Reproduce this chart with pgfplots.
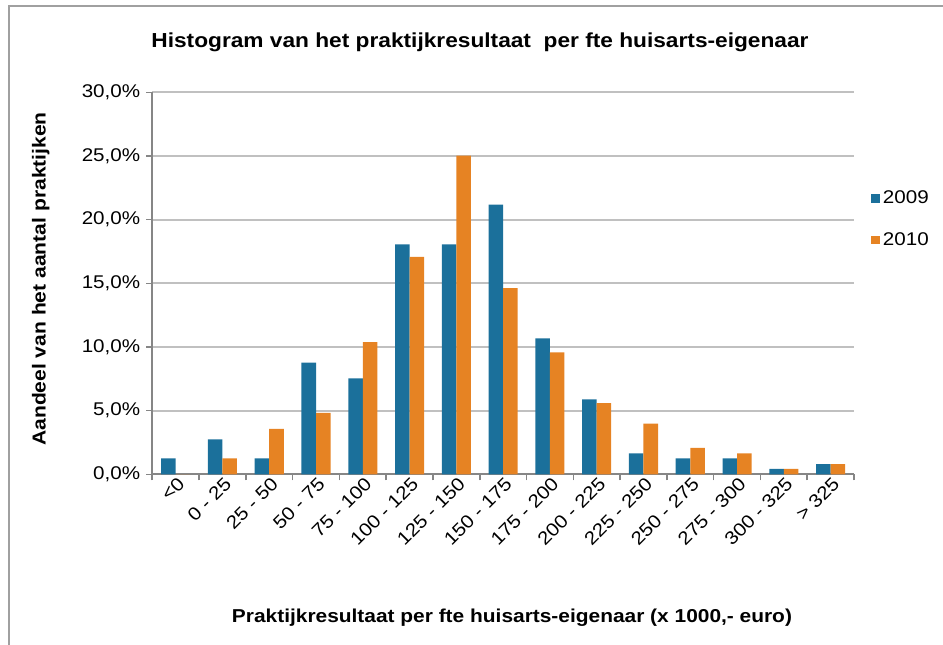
\documentclass[border=0pt]{standalone}
\usepackage{pgfplots}
\pgfplotsset{compat=1.18}
\usepackage{fontspec}
\setmainfont{Liberation Sans}[FakeStretch=1.12]
\definecolor{c09}{RGB}{27,112,155}
\definecolor{c10}{RGB}{230,131,35}
\definecolor{gridc}{RGB}{192,192,192}
\definecolor{axc}{RGB}{134,134,134}
\begin{document}
\begin{tikzpicture}
\useasboundingbox (0,0) rectangle (707.25pt,483.75pt);
\draw[color={rgb,255:red,160;green,160;blue,160}, line width=1.5pt] (6.6pt,-2pt) -- (6.6pt,479.3pt) -- (710pt,479.3pt);
\node[font=\bfseries\fontsize{15.2}{18}\selectfont] at (360pt,452.25pt) {Histogram van het praktijkresultaat\ \ per fte huisarts-eigenaar};
\node[font=\bfseries\fontsize{14.1}{16}\selectfont, rotate=90] at (30.5pt,274.5pt) {Aandeel van het aantal praktijken};
\node[font=\bfseries\fontsize{14}{16}\selectfont] at (384pt,20.25pt) {Praktijkresultaat per fte huisarts-eigenaar (x 1000,- euro)};
\begin{axis}[
  at={(114.2pt,128pt)}, anchor=south west,
  scale only axis, width=526.3pt, height=286.5pt,
  xmin=-0.5, xmax=14.5, ymin=0, ymax=30,
  axis x line*=bottom, axis y line*=left,
  axis line style={axc, line width=1.5pt},
  ytick={0,5,...,30},
  yticklabels={{0,0\%},{5,0\%},{10,0\%},{15,0\%},{20,0\%},{25,0\%},{30,0\%}},
  ymajorgrids, major grid style={gridc, line width=1.5pt},
  xtick={0,...,14},
  xticklabels={{<0},{0 - 25},{25 - 50},{50 - 75},{75 - 100},{100 - 125},{125 - 150},{150 - 175},{175 - 200},{200 - 225},{225 - 250},{250 - 275},{275 - 300},{300 - 325},{> 325}},
  minor xtick={-0.5,0.5,...,14.5},
  tick align=outside,
  major x tick style={draw=none},
  minor tick length=4.5pt, major tick length=4.5pt,
  tick style={axc, line width=1.2pt},
  xticklabel style={rotate=45, anchor=east, font=\fontsize{13.8}{15}\selectfont, inner sep=1pt, xshift=4pt, yshift=-3pt},
  yticklabel style={font=\fontsize{13.8}{15}\selectfont, xshift=-1pt},
  /pgf/number format/assume math mode=true,
  ybar=0pt, bar width=10.9pt,
  legend style={at={(1.024,0.668)}, anchor=west, draw=none, fill=none, font=\fontsize{13.8}{15}\selectfont, row sep=15pt, inner sep=0pt, nodes={inner sep=2.5pt}},
  legend cell align=left,
  legend image code/.code={\fill[#1] (0pt,-3.2pt) rectangle (6.4pt,3.2pt);},
]
\addplot[fill=c09, draw=none, bar shift=-5.45pt] coordinates {
(0,1.26) (1,2.75) (2,1.26) (3,8.77) (4,7.54) (5,18.06) (6,18.06) (7,21.18) (8,10.68) (9,5.89) (10,1.65) (11,1.26) (12,1.26) (13,0.42) (14,0.81)};
\addplot[fill=c10, draw=none, bar shift=5.45pt] coordinates {
(0,0) (1,1.26) (2,3.56) (3,4.82) (4,10.39) (5,17.07) (6,25.03) (7,14.63) (8,9.58) (9,5.60) (10,3.98) (11,2.07) (12,1.65) (13,0.42) (14,0.81)};
\legend{2009,2010}
\end{axis}
\end{tikzpicture}
\end{document}
